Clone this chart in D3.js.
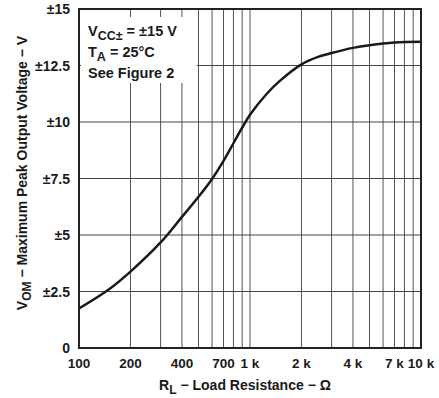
<!DOCTYPE html>
<html>
<head>
<meta charset="UTF-8" />
<script src="https://cdn.jsdelivr.net/npm/d3@7"></script>
<style>
  body { margin: 0; background: #fff; }
  svg text { font-family: "Liberation Sans", Arial, sans-serif; font-weight: bold; fill: #1a1a1a; }
</style>
</head>
<body>
<svg id="chart"></svg>
<script>
// load resistance (ohm) and max peak output voltage (V)
const resistance = [100, 150, 200, 300, 400, 500, 600, 700, 800, 900, 1000, 1250, 1500, 2000, 2500, 3000, 4000, 5000, 7000, 10000];
const voltage    = [1.75, 2.6, 3.38, 4.67, 5.8, 6.69, 7.48, 8.28, 9.06, 9.75, 10.32, 11.24, 11.83, 12.55, 12.88, 13.05, 13.28, 13.4, 13.52, 13.55];

const xTicks = [100, 200, 400, 700, 1000, 2000, 4000, 7000, 10000];
const xTickLabels = ["100", "200", "400", "700", "1 k", "2 k", "4 k", "7 k", "10 k"];
const xGrid = [200, 300, 400, 500, 600, 700, 800, 900, 1000, 2000, 3000, 4000, 5000, 6000, 7000, 8000, 9000];
const yTicks = [0, 2.5, 5, 7.5, 10, 12.5, 15];
const yTickLabels = ["0", "±2.5", "±5", "±7.5", "±10", "±12.5", "±15"];

const width = 439, height = 398;
const margin = {left: 79, right: 18, top: 9, bottom: 50};

const svg = d3.select("#chart").attr("width", width).attr("height", height);

const x = d3.scaleLog().domain([100, 10000]).range([margin.left, width - margin.right]);
const y = d3.scaleLinear().domain([0, 15]).range([height - margin.bottom, margin.top]);

// grid
svg.append("g").selectAll("line")
  .data(xGrid).enter().append("line")
  .attr("x1", d => x(d)).attr("x2", d => x(d))
  .attr("y1", y(0)).attr("y2", y(15))
  .attr("stroke", "#555").attr("stroke-width", 1);

svg.append("g").selectAll("line")
  .data(yTicks.slice(1, -1)).enter().append("line")
  .attr("x1", x(100)).attr("x2", x(10000))
  .attr("y1", d => y(d)).attr("y2", d => y(d))
  .attr("stroke", "#444").attr("stroke-width", 1);

// white box behind the conditions text
svg.append("rect")
  .attr("x", x(100) + 2).attr("y", 17)
  .attr("width", 116).attr("height", 66)
  .attr("fill", "#fff");

// frame
svg.append("rect")
  .attr("x", x(100)).attr("y", y(15))
  .attr("width", x(10000) - x(100)).attr("height", y(0) - y(15))
  .attr("fill", "none").attr("stroke", "#222").attr("stroke-width", 2);

// curve
const line = d3.line()
  .x((d, i) => x(resistance[i]))
  .y(d => y(d))
  .curve(d3.curveCatmullRom.alpha(0.5));

svg.append("path")
  .datum(voltage)
  .attr("d", line)
  .attr("fill", "none")
  .attr("stroke", "#1a1a1a")
  .attr("stroke-width", 2.5);

// tick labels
svg.append("g").selectAll("text")
  .data(xTicks).enter().append("text")
  .attr("x", d => x(d)).attr("y", 368)
  .attr("text-anchor", "middle")
  .attr("font-size", 13.5)
  .text((d, i) => xTickLabels[i]);

svg.append("g").selectAll("text")
  .data(yTicks).enter().append("text")
  .attr("x", 70).attr("y", d => y(d) + 5)
  .attr("text-anchor", "end")
  .attr("font-size", 14)
  .text((d, i) => yTickLabels[i]);

// axis titles
const xt = svg.append("text")
  .attr("x", 245).attr("y", 390)
  .attr("text-anchor", "middle")
  .attr("font-size", 14);
xt.append("tspan").text("R");
xt.append("tspan").attr("font-size", 12).attr("dy", 4).text("L");
xt.append("tspan").attr("dy", -4).text(" − Load Resistance − Ω");

const yt = svg.append("text")
  .attr("transform", "translate(27,173) rotate(-90)")
  .attr("text-anchor", "middle")
  .attr("font-size", 14);
yt.append("tspan").text("V");
yt.append("tspan").attr("font-size", 12).attr("dy", 4).text("OM");
yt.append("tspan").attr("dy", -4).text(" − Maximum Peak Output Voltage − V");

// conditions
const notes = svg.append("g").attr("font-size", 14.5);
const n1 = notes.append("text").attr("x", 88).attr("y", 36);
n1.append("tspan").text("V");
n1.append("tspan").attr("font-size", 12.5).attr("dy", 4).text("CC±");
n1.append("tspan").attr("dy", -4).text(" = ±15 V");
const n2 = notes.append("text").attr("x", 88).attr("y", 57);
n2.append("tspan").text("T");
n2.append("tspan").attr("font-size", 12.5).attr("dy", 4).text("A");
n2.append("tspan").attr("dy", -4).text(" = 25°C");
notes.append("text").attr("x", 88).attr("y", 78).text("See Figure 2");
</script>
</body>
</html>
